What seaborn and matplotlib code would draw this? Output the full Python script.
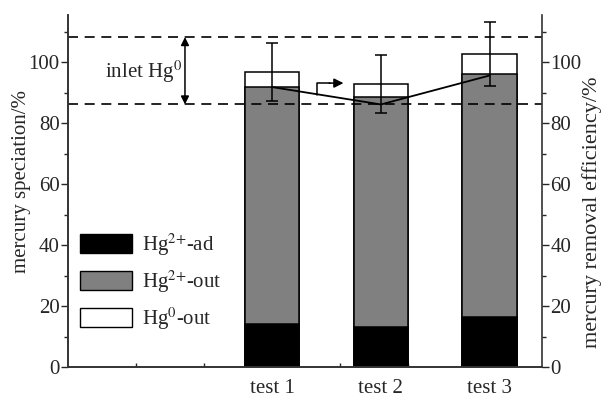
import matplotlib
matplotlib.use('Agg')
import matplotlib.pyplot as plt
from matplotlib.patches import Patch
from matplotlib.ticker import MultipleLocator
import seaborn as sns
import numpy as np

# ── data ──────────────────────────────────────────────────────────
tests = ['test 1', 'test 2', 'test 3']
xpos = [3.0, 4.6, 6.2]
hg2_ad = [14.1, 13.2, 16.3]        # Hg2+ adsorbed
hg2_out = [77.8, 75.4, 79.8]       # Hg2+ at outlet
hg0_out = [4.9, 4.4, 6.7]          # Hg0 at outlet
err = [9.5, 9.5, 10.4]
removal_eff = [91.9, 86.2, 95.7]
inlet_hi, inlet_lo = 108.3, 86.2

sns.set_style('ticks')
plt.rcParams['font.family'] = ['Liberation Serif', 'DejaVu Serif']
plt.rcParams['mathtext.fontset'] = 'stix'

fig = plt.figure(figsize=(6.07, 3.99), dpi=100)
ax = fig.add_axes([0.112, 0.080, 0.781, 0.882])

# stacked bars: draw cumulative totals back to front
lvl1 = np.array(hg2_ad)
lvl2 = lvl1 + np.array(hg2_out)
lvl3 = lvl2 + np.array(hg0_out)
for vals, col in [(lvl3, 'white'), (lvl2, '#808080'), (lvl1, 'black')]:
    sns.barplot(x=xpos, y=vals, native_scale=True, width=0.5, color=col,
                edgecolor='black', linewidth=1.1, errorbar=None, ax=ax)

ax.errorbar(xpos, lvl3, yerr=err, fmt='none', ecolor='black',
            elinewidth=1.1, capsize=4.3, capthick=1.1, zorder=5)

sns.lineplot(x=xpos, y=removal_eff, color='black', linewidth=1.3, ax=ax, zorder=6)

# inlet Hg0 band
for yv in (inlet_hi, inlet_lo):
    ax.axhline(yv, color='black', lw=1.2, ls=(0, (6, 4)), zorder=1)
ax.annotate('', xy=(1.72, inlet_hi), xytext=(1.72, inlet_lo),
            arrowprops=dict(arrowstyle='<|-|>', color='black', lw=1.1,
                            mutation_scale=12, shrinkA=0, shrinkB=0))
ax.text(1.11, 96.8, 'inlet Hg$^0$', fontsize=15, ha='center', va='center')

# bent arrow pointing to right axis
ax.plot([3.66, 3.66, 3.85], [89.4, 93.2, 93.2], color='black', lw=1.1, zorder=6)
ax.annotate('', xy=(4.05, 93.2), xytext=(3.84, 93.2),
            arrowprops=dict(arrowstyle='-|>', color='black', lw=1.1,
                            mutation_scale=14, shrinkA=0, shrinkB=0))

ax.set_xlim(0, 6.97)
ax.set_ylim(0, 115.5)
ax.set_xticks([1, 2, 3, 4, 5, 6])
ax.set_xticklabels([])
ax.tick_params(axis='x', direction='in', length=3, width=1)
for x, t in zip(xpos, tests):
    ax.text(x, -4, t, fontsize=15, ha='center', va='top')

ax.yaxis.set_major_locator(MultipleLocator(20))
ax.yaxis.set_minor_locator(MultipleLocator(10))
ax.tick_params(axis='y', which='major', length=5, width=1, labelsize=15, pad=1)
ax.tick_params(axis='y', which='minor', length=3, width=1)
ax.set_ylabel('mercury speciation/%', fontsize=15, va='center')
ax.yaxis.set_label_coords(-0.099, 0.526)

ax2 = ax.twinx()
ax2.set_ylim(0, 115.5)
ax2.yaxis.set_major_locator(MultipleLocator(20))
ax2.yaxis.set_minor_locator(MultipleLocator(10))
ax2.tick_params(axis='y', which='major', length=5, width=1, labelsize=15, pad=1)
ax2.tick_params(axis='y', which='minor', length=3, width=1)
ax2.set_ylabel('mercury removal efficiency/%', fontsize=16, rotation=90, va='center')
ax2.yaxis.set_label_coords(1.105, 0.44)

for a in (ax, ax2):
    a.spines['top'].set_visible(False)
    for s in ('left', 'right', 'bottom'):
        a.spines[s].set_linewidth(1.2)
        a.spines[s].set_color('#333333')
ax.spines['right'].set_visible(False)

handles = [Patch(facecolor='black', edgecolor='black', label='Hg$^{2{+}}$-ad'),
           Patch(facecolor='#808080', edgecolor='black', label='Hg$^{2{+}}$-out'),
           Patch(facecolor='white', edgecolor='black', label='Hg$^0$-out')]
ax.legend(handles=handles, loc='upper left', bbox_to_anchor=(0.025, 0.385),
          frameon=False, fontsize=15, handlelength=2.5, handleheight=1.0,
          labelspacing=0.5, handletextpad=0.5, borderpad=0, borderaxespad=0)

fig.savefig('out.png', dpi=100)
